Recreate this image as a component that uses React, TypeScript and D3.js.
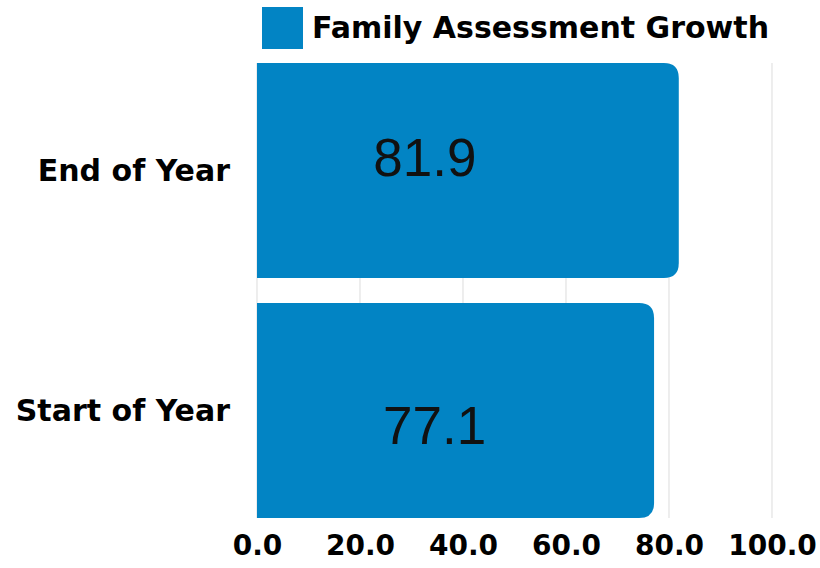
import React, { useEffect, useRef } from 'react';
import * as d3 from 'd3';

// chart data
const categories = ['End of Year', 'Start of Year'];
const values = [81.9, 77.1];
const tickValues = [0, 20, 40, 60, 80, 100];
const seriesName = 'Family Assessment Growth';

const BLUE = '#0284c4';
const LABEL_FONT = '"DejaVu Sans", sans-serif';

const App = () => {
  const ref = useRef<SVGSVGElement>(null);

  useEffect(() => {
    const width = 820;
    const height = 568;

    const svg = d3.select(ref.current);
    svg.selectAll('*').remove();

    const x = d3.scaleLinear().domain([0, 100]).range([257, 772]);
    const y = d3.scaleBand()
      .domain(categories)
      .range([50.5, 530.5])
      .paddingInner(0.104)
      .paddingOuter(0.052);

    svg.attr('width', width).attr('height', height);

    // gridlines behind the bars
    svg.append('g')
      .selectAll('line')
      .data(tickValues)
      .enter().append('line')
      .attr('x1', d => x(d))
      .attr('x2', d => x(d))
      .attr('y1', y(categories[0])!)
      .attr('y2', y(categories[categories.length - 1])! + y.bandwidth())
      .attr('stroke', '#e2e2e2')
      .attr('stroke-width', 1.2);

    const rows = categories.map((c, i) => ({ name: c, value: values[i] }));

    // bars, rounded on the right end only
    const r = 15;
    svg.append('g')
      .selectAll('path')
      .data(rows)
      .enter().append('path')
      .attr('fill', BLUE)
      .attr('d', d => {
        const x0 = x(0);
        const x1 = x(d.value);
        const y0 = y(d.name)!;
        const y1 = y0 + y.bandwidth();
        return `M${x0},${y0}H${x1 - r}Q${x1},${y0} ${x1},${y0 + r}V${y1 - r}Q${x1},${y1} ${x1 - r},${y1}H${x0}Z`;
      });

    // value labels (sit a little off-centre, as in the source)
    svg.append('g')
      .selectAll('text')
      .data(rows)
      .enter().append('text')
      .attr('x', (d, i) => x(d.value / 2) + (i === 0 ? -43 : -21))
      .attr('y', (d, i) => y(d.name)! + y.bandwidth() / 2 + (i === 0 ? -13 : 15))
      .attr('dy', '0.35em')
      .attr('text-anchor', 'middle')
      .attr('font-family', '"Liberation Sans", Arial, sans-serif')
      .attr('font-size', 53)
      .attr('fill', '#111')
      .text(d => d.value.toFixed(1));

    // category labels
    svg.append('g')
      .selectAll('text')
      .data(categories)
      .enter().append('text')
      .attr('x', 230)
      .attr('y', d => y(d)! + y.bandwidth() / 2)
      .attr('dy', '0.35em')
      .attr('text-anchor', 'end')
      .attr('font-family', LABEL_FONT)
      .attr('font-weight', 'bold')
      .attr('font-size', 30)
      .attr('fill', '#000')
      .text(d => d);

    // x axis tick labels
    const axis = svg.append('g')
      .attr('transform', 'translate(0,533)')
      .call(d3.axisBottom(x).tickValues(tickValues).tickFormat(d3.format('.1f')).tickSize(0).tickPadding(2));
    axis.select('.domain').remove();
    axis.selectAll('text')
      .attr('font-family', LABEL_FONT)
      .attr('font-weight', 'bold')
      .attr('font-size', 28)
      .attr('fill', '#000');

    // legend
    const legend = svg.append('g');
    legend.append('rect')
      .attr('x', 262).attr('y', 7)
      .attr('width', 41).attr('height', 42)
      .attr('fill', BLUE);
    legend.append('text')
      .attr('x', 312).attr('y', 27)
      .attr('dy', '0.35em')
      .attr('font-family', LABEL_FONT)
      .attr('font-weight', 'bold')
      .attr('font-size', 30)
      .attr('fill', '#000')
      .text(seriesName);
  }, []);

  return (
    <svg ref={ref} style={{ position: 'absolute', left: 0, top: 0, background: '#fff' }} />
  );
};

export default App;
